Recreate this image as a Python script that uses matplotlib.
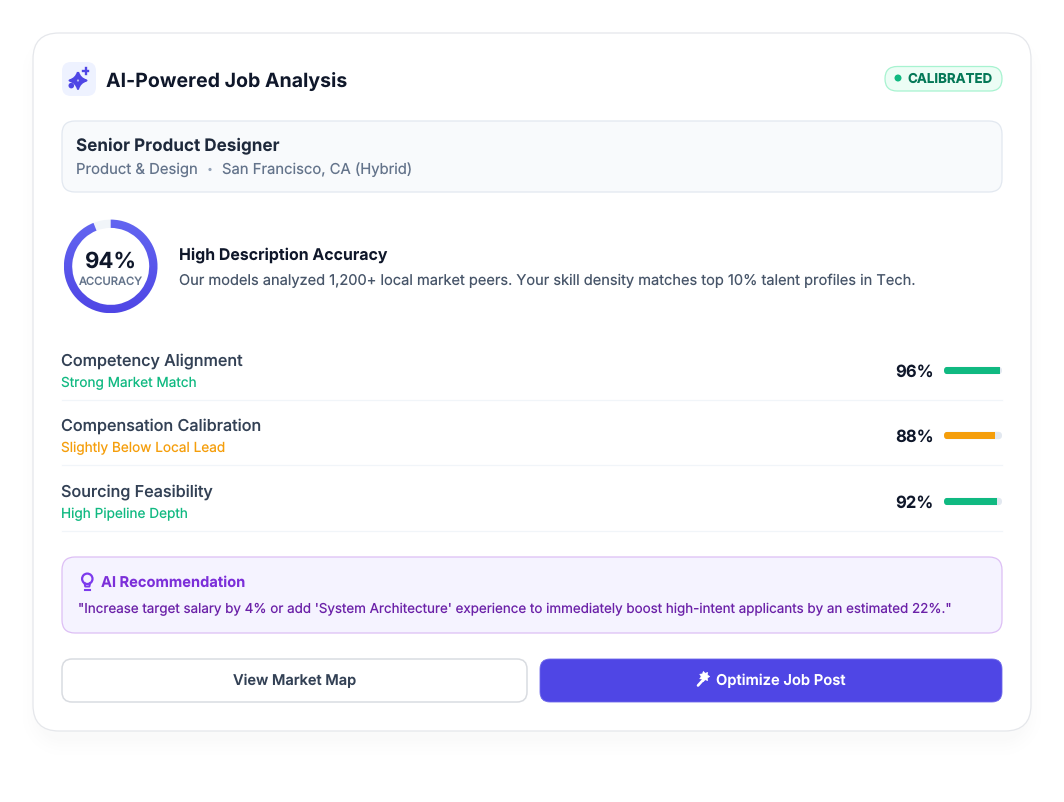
import numpy as np
import matplotlib
matplotlib.use("Agg")
import matplotlib.pyplot as plt
from matplotlib.patches import FancyBboxPatch, Circle, Wedge, Polygon, PathPatch, Rectangle
from matplotlib.path import Path

plt.rcParams['font.family'] = ['Inter', 'DejaVu Sans']
plt.rcParams['text.hinting'] = 'no_hinting'
plt.rcParams['text.hinting_factor'] = 1

# content
title = "AI-Powered Job Analysis"
badge = "CALIBRATED"
job_title = "Senior Product Designer"
job_dept = "Product & Design"
job_place = "San Francisco, CA (Hybrid)"
accuracy = 94
accuracy_label = "ACCURACY"
acc_head = "High Description Accuracy"
acc_text = "Our models analyzed 1,200+ local market peers. Your skill density matches top 10% talent profiles in Tech."
metric_names = ["Competency Alignment", "Compensation Calibration", "Sourcing Feasibility"]
metric_notes = ["Strong Market Match", "Slightly Below Local Lead", "High Pipeline Depth"]
metric_values = [96, 88, 92]
metric_colors = ["#10B981", "#F59E0B", "#10B981"]
rec_head = "AI Recommendation"
rec_text = "\"Increase target salary by 4% or add 'System Architecture' experience to immediately boost high-intent applicants by an estimated 22%.\""
btn_left = "View Market Map"
btn_right = "Optimize Job Post"


def box(ax, x, y, w, h, r, fc, ec="none", lw=0.0, z=2):
    p = FancyBboxPatch((x, y), w, h, boxstyle=f"round,pad=0,rounding_size={r}",
                       fc=fc, ec=ec, lw=lw, zorder=z)
    ax.add_patch(p)
    return p


def star(ax, cx, cy, r, fc):
    # fat four point sparkle
    k = 0.22 * r
    verts = [(cx, cy - r), (cx + k, cy - k), (cx + r, cy), (cx + k, cy + k), (cx, cy + r),
             (cx - k, cy + k), (cx - r, cy), (cx - k, cy - k), (cx, cy - r)]
    codes = [Path.MOVETO] + [Path.CURVE3] * 8
    ax.add_patch(PathPatch(Path(verts, codes), fc=fc, ec=fc, lw=1.6, joinstyle="round", zorder=5))


def shadow_layer(ax):
    # rounded rect distance field, low alpha steps get lost in 8 bit blending
    yy, xx = np.mgrid[0:802, 0:1064] + 0.5
    left, right, top, bottom, rad = 37, 1027, 47, 741, 26
    qx = np.abs(xx - (left + right) / 2) - (right - left) / 2 + rad
    qy = np.abs(yy - (top + bottom) / 2) - (bottom - top) / 2 + rad
    dist = np.hypot(np.maximum(qx, 0), np.maximum(qy, 0)) + np.minimum(np.maximum(qx, qy), 0) - rad
    fade = np.clip(1 - dist / 26, 0, 1) ** 2 * 0.02
    rgba = np.zeros((802, 1064, 4))
    rgba[..., :3] = (0.06, 0.09, 0.16)
    rgba[..., 3] = fade
    ax.imshow(rgba, extent=(0, 1064, 802, 0), aspect="auto", zorder=1, interpolation="nearest")


fig = plt.figure(figsize=(10.64, 8.02), dpi=100, facecolor="white")
ax = fig.add_axes([0, 0, 1, 1])
ax.set_axis_off()

# card with soft shadow
shadow_layer(ax)
box(ax, 33, 33, 998, 698, 26, "white", "#E5E7EB", 0.9, z=2)

# header
indigo = "#4F46E5"
box(ax, 62, 62, 34, 34, 9, "#EEF2FF")
star(ax, 78, 80.5, 8.4, indigo)
ax.add_patch(Circle((78, 80.5), 1.1, fc="#B9B8F4", zorder=6))
ax.add_patch(Circle((71.3, 85.6), 2.8, fc=indigo, zorder=5))
ax.plot([85.5, 85.5], [68.3, 73.5], color=indigo, lw=1.7, zorder=5)
ax.plot([83, 88], [70.9, 70.9], color=indigo, lw=1.7, zorder=5)
ax.text(106, 87, title, fontsize=14.07, fontweight="bold", color="#0F172A", zorder=6)

box(ax, 885, 66.5, 117, 24.5, 12.2, "#ECFDF5", "#A7F3D0", 0.9)
ax.add_patch(Circle((898, 78), 3.5, fc="#10B981", zorder=5))
ax.text(907, 83, badge, fontsize=9.6, fontweight="bold", color="#047857", zorder=6)

# job box
box(ax, 62, 121, 940, 71, 13, "#F8FAFC", "#E2E8F0", 0.9)
ax.text(76, 150.4, job_title, fontsize=12.3, fontweight="bold", color="#1E293B", zorder=6)
ax.text(76, 174, job_dept, fontsize=10.7, color="#64748B", zorder=6)
ax.add_patch(Circle((210, 169.5), 1.6, fc="#94A3B8", zorder=5))
ax.text(221.7, 174, job_place, fontsize=10.66, color="#64748B", zorder=6)

# accuracy ring
cx, cy, r_out, ring = 110.7, 266.4, 46.8, 8.3
ax.add_patch(Wedge((cx, cy), r_out, 0, 360, width=ring, fc="#F1F5F9", ec="none", zorder=3))
# y axis is flipped so the sweep runs from 12 o'clock clockwise on screen
grad = np.linspace(0, 1, 100).reshape(-1, 1)
cmap = matplotlib.colors.LinearSegmentedColormap.from_list("ring", ["#6366F1", indigo])
img = ax.imshow(grad, cmap=cmap, extent=(cx - r_out, cx + r_out, cy + r_out, cy - r_out),
                aspect="auto", zorder=4)
arc = Wedge((cx, cy), r_out, -90, -90 + 360 * accuracy / 100, width=ring, fc="none", ec="none")
ax.add_patch(arc)
img.set_clip_path(arc)
ax.text(cx, 268, f"{accuracy}%", fontsize=16, fontweight="bold", color="#0F172A", ha="center", zorder=6)
ax.text(cx, 285, accuracy_label, fontsize=8.1, fontweight="medium", color="#64748B", ha="center", zorder=6)
ax.text(179.2, 260, acc_head, fontsize=11.45, fontweight="bold", color="#0F172A", zorder=6)
ax.text(179.2, 285, acc_text, fontsize=10.52, color="#475569", zorder=6)

# metric rows
row_base = [366, 431, 497]
for i in range(len(metric_names)):
    base = row_base[i]
    ax.text(61.3, base, metric_names[i], fontsize=11.65, fontweight="medium", color="#334155", zorder=6)
    ax.text(61.3, base + 21, metric_notes[i], fontsize=9.8, color=metric_colors[i], zorder=6)
    ax.text(933.4, base + 10.4, f"{metric_values[i]}%", fontsize=12, fontweight="bold", color="#0F172A",
            ha="right", zorder=6)
    # bar track then fill, the track clips the fill end
    track = box(ax, 944, base + 0.8, 58, 7.4, 3.7, "#E2E8F0", z=3)
    fill = Rectangle((944, base + 0.8), 58 * metric_values[i] / 100, 7.4, fc=metric_colors[i], ec="none", zorder=4)
    ax.add_patch(fill)
    fill.set_clip_path(track)
    ax.plot([62, 1002], [base + 34.3, base + 34.3], color="#F1F5F9", lw=0.9, zorder=2)

# recommendation
box(ax, 62, 557, 940, 76, 13, "#F5F3FF", "#DDBFF5", 0.9)
bulb = "#7C3AED"
ax.add_patch(Circle((87.3, 578.8), 5.2, fc="none", ec=bulb, lw=1.6, zorder=5))
ax.plot([84.5, 85.2, 89.4, 90.1], [583, 586.5, 586.5, 583], color=bulb, lw=1.4, zorder=5)
ax.plot([84.6, 90], [590, 590], color=bulb, lw=1.5, zorder=5)
ax.text(101, 587, rec_head, fontsize=10.56, fontweight="bold", color="#7C2FD9", zorder=6)
ax.text(78, 613, rec_text, fontsize=9.65, color="#6B21A8", zorder=6)

# buttons
box(ax, 62, 659, 465, 43, 10, "white", "#D9DCE1", 1.1)
ax.text(294.5, 685.5, btn_left, fontsize=10.5, fontweight="semibold", color="#334155", ha="center", zorder=6)
box(ax, 540, 659, 462, 43, 10, indigo, "#6D67EA", 0.6)
ax.text(780.5, 685.5, btn_right, fontsize=10.6, fontweight="semibold", color="white", ha="center", zorder=6)
# small hammer icon, burst head and handle
ang = np.linspace(0, 2 * np.pi, 15)[:-1]
rad = np.where(np.arange(14) % 2 == 0, 5.4, 3.4)
ax.add_patch(Polygon(np.column_stack([704.5 + rad * np.cos(ang), 676.5 + rad * np.sin(ang)]),
                     fc="white", ec="white", lw=0.3, zorder=6))
ax.plot([698, 703], [685.5, 680], color="white", lw=1.9, solid_capstyle="round", zorder=6)

ax.set_xlim(0, 1064)
ax.set_ylim(802, 0)
fig.savefig("out.png", dpi=100, facecolor="white")
